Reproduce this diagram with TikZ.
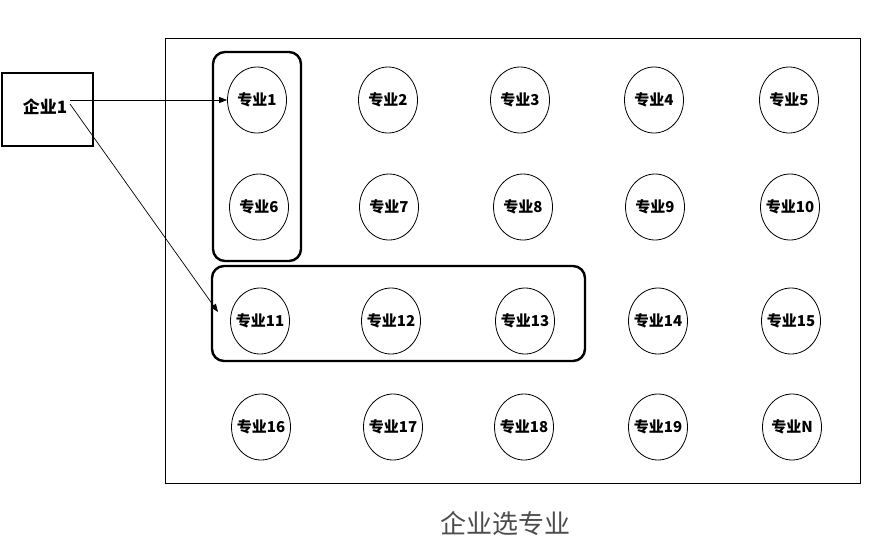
\documentclass[tikz,border=0pt]{standalone}
\usepackage{fontspec}
\newfontfamily\cjk{Noto Sans CJK SC}
\usetikzlibrary{shapes.geometric,arrows.meta}
\begin{document}
\begin{tikzpicture}[x=1pt,y=1pt,
  major/.style={draw, line width=0.8pt, ellipse, minimum width=59pt, minimum height=66pt, inner xsep=-6pt, inner ysep=0pt, font=\cjk\bfseries\fontsize{15}{15}\selectfont},
  groupbox/.style={draw, line width=2.4pt, rounded corners=12pt},
  conn/.style={line width=0.7pt, -{Triangle[length=8pt,width=6pt]}}]
\useasboundingbox (0,0) rectangle (882,-546);
\fill[white] (0,0) rectangle (882,-546);
% outer frame
\node[draw, line width=0.8pt, minimum width=695pt, minimum height=445pt, inner sep=0pt, anchor=north west] (frame) at (165,-38) {};
% company
\node[draw, line width=1.8pt, minimum width=91pt, minimum height=73pt, inner sep=0pt, anchor=north west] (cbox) at (1,-72) {};
\node[font=\cjk\bfseries\fontsize{17}{17}\selectfont, inner sep=0pt] (ctext) at (45,-107) {企业1};
\coordinate (cout1) at (70,-100);
\coordinate (cout2) at (70,-104);
% group boxes
\draw[groupbox] (213,-52) rectangle (301,-261);
\draw[groupbox] (212,-266) rectangle (585,-361);
\coordinate (g2in) at (218,-312);
% majors
\node[major] (m1) at (257,-100) {专业1};
\node[major] (m2) at (388,-100) {专业2};
\node[major] (m3) at (520,-100) {专业3};
\node[major] (m4) at (654,-100) {专业4};
\node[major] (m5) at (789,-100) {专业5};
\node[major] (m6) at (259,-207) {专业6};
\node[major] (m7) at (389,-207) {专业7};
\node[major] (m8) at (523,-207) {专业8};
\node[major] (m9) at (655,-207) {专业9};
\node[major] (m10) at (790,-207) {专业10};
\node[major] (m11) at (260,-321) {专业11};
\node[major] (m12) at (391,-321) {专业12};
\node[major] (m13) at (525,-321) {专业13};
\node[major] (m14) at (658,-321) {专业14};
\node[major] (m15) at (791,-321) {专业15};
\node[major] (m16) at (261,-427) {专业16};
\node[major] (m17) at (393,-427) {专业17};
\node[major] (m18) at (524,-427) {专业18};
\node[major] (m19) at (658,-427) {专业19};
\node[major] (mN) at (792,-427) {专业N};
% connectors
\draw[conn] (cout1) -- (m1.west);
\draw[conn] (cout2) -- (g2in);
% caption
\node[font=\cjk\fontsize{26}{26}\selectfont, text=black!70] (cap) at (505,-524) {企业选专业};
\end{tikzpicture}
\end{document}
